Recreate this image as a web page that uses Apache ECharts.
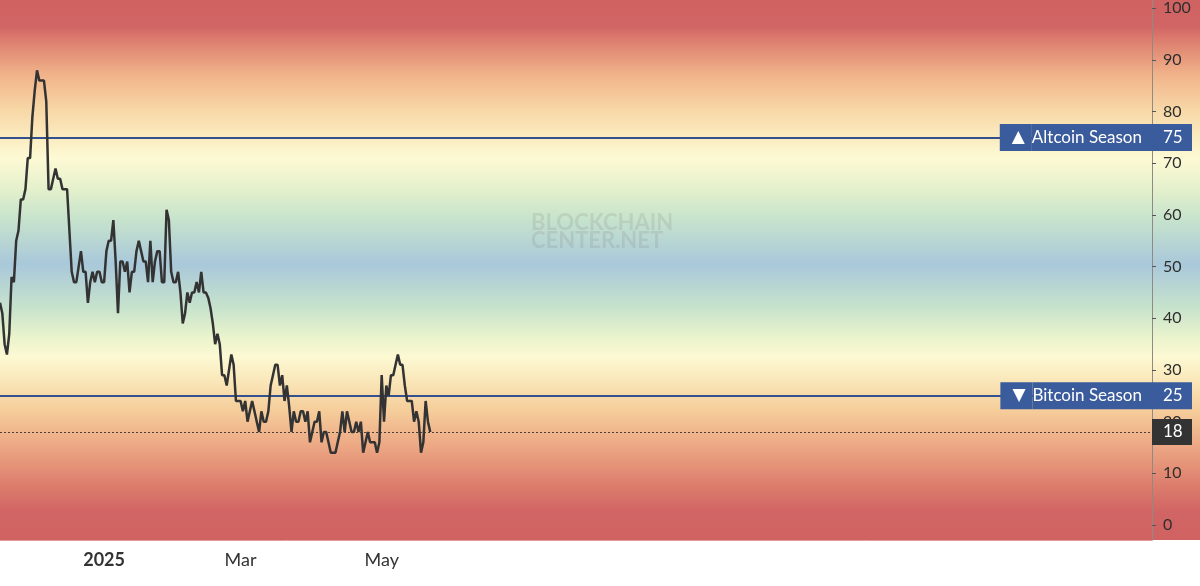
<!DOCTYPE html>
<html>
<head>
<meta charset="utf-8">
<script src="https://cdn.jsdelivr.net/npm/echarts@6/dist/echarts.min.js"></script>
<style>
html,body{margin:0;padding:0;background:#ffffff;}
#chart{width:1200px;height:586px;}
</style>
</head>
<body>
<div id="chart"></div>
<script>
// ---- data ----
const startDate = [2024, 10, 17];           // first daily point (Nov 17, 2024)
const axisEndDate = [2026, 2, 30];          // right end of the time axis
const seasonIndex = [
  43,41,35,33,37,48,47,55,57,63,
  63,65,71,71,79,84,88,86,86,86,
  82,65,65,67,69,67,67,65,65,65,
  57,49,47,47,50,53,49,49,43,47,
  49,47,49,49,47,47,53,55,55,59,
  51,41,51,51,49,51,45,49,49,53,
  55,53,51,51,47,55,47,51,53,53,
  47,47,61,59,49,47,47,49,45,39,
  41,45,43,45,45,47,45,49,45,45,
  44,42,39,35,37,35,29,29,27,30,
  33,31,24,24,24,22,24,20,22,24,
  22,20,18,22,20,20,22,27,29,31,
  31,27,29,24,27,23,18,22,20,20,
  22,22,20,22,16,18,20,20,22,16,
  18,18,16,14,14,14,16,18,22,18,
  22,20,18,18,20,18,20,14,16,18,
  16,16,16,14,16,29,20,27,25,29,
  29,31,33,31,31,27,24,24,24,20,
  22,20,14,16,24,20,18
];
const yTickValues = [0,10,20,30,40,50,60,70,80,90,100];
const xTickDates = [[2025,0,1],[2025,2,1],[2025,4,1]];
const xTickLabels = ['2025','Mar','May'];
const xTickBold = [true,false,false];
const altcoinLevel = 75;
const bitcoinLevel = 25;
const altcoinArrow = '▲', altcoinName = 'Altcoin Season';
const bitcoinArrow = '▼', bitcoinName = 'Bitcoin Season';
const yMin = -2.9, yMax = 101.6;
const watermarkText = 'BLOCKCHAIN\nCENTER.NET';

// background colour bands, by index value
const bgStops = [
  [101.6,'#d06262'],[96.5,'#d16464'],[94,'#dc7c6e'],[87,'#f1b48a'],
  [80,'#f8d9a8'],[71,'#fdfad4'],[65,'#e4f0cc'],[59.5,'#c8e4cc'],
  [50.5,'#a9c8da'],[42,'#c7e3cc'],[36.5,'#e9f3cc'],[32.5,'#fdf9d3'],
  [27,'#f9e3b4'],[22,'#f5cc9a'],[15,'#eca683'],[7.5,'#dc7c6c'],
  [2.5,'#d16464'],[-2.9,'#d06262']
];

// ---- build ----
const DAY = 86400000;
function dayOffset(d) {
  return Math.round((Date.UTC(d[0], d[1], d[2]) - Date.UTC(startDate[0], startDate[1], startDate[2])) / DAY);
}
const lastValue = seasonIndex[seasonIndex.length - 1];
const seriesData = seasonIndex.map((v, i) => [i, v]);
const xTickDays = xTickDates.map(dayOffset);
const xMin = 0;
const xMax = dayOffset(axisEndDate);

const gridBottom = 46, gridRight = 48;
const plotHeight = 586 - gridBottom;
const gradStops = bgStops.map(s => ({
  offset: Math.min(1, Math.max(0, (yMax - s[0]) / (yMax - yMin))),
  color: s[1]
}));

const FONT = 'Lato, "Noto Sans", sans-serif';
const BLUE = '#3a5b9c';

const chart = echarts.init(document.getElementById('chart'));
chart.setOption({
  animation: false,
  backgroundColor: '#ffffff',
  textStyle: { fontFamily: FONT },
  grid: { left: 0, right: gridRight, top: 0, bottom: gridBottom, containLabel: false, outerBoundsMode: 'none' },
  graphic: [
    {
      type: 'rect', silent: true, z: -10,
      shape: { x: 0, y: 0, width: 1200, height: plotHeight },
      style: { fill: new echarts.graphic.LinearGradient(0, 0, 0, 1, gradStops) }
    },
    {
      type: 'text', silent: true, z: -5,
      left: 531, top: 212,
      style: {
        text: watermarkText,
        font: 'bold 22px ' + FONT,
        fill: 'rgba(120,120,120,0.17)',
        lineHeight: 18
      }
    }
  ],
  xAxis: {
    type: 'value',
    min: xMin,
    max: xMax,
    axisLine: { show: true, onZero: false, lineStyle: { color: '#e39b9b', width: 1 } },
    axisTick: { show: false },
    splitLine: { show: false },
    axisLabel: {
      customValues: xTickDays,
      margin: 11,
      color: '#333',
      fontSize: 18,
      fontFamily: FONT,
      formatter: function (value) {
        const i = xTickDays.indexOf(value);
        if (i < 0) return '';
        return xTickBold[i] ? '{b|' + xTickLabels[i] + '}' : '{n|' + xTickLabels[i] + '}';
      },
      rich: {
        b: { fontWeight: 'bold', fontSize: 18, color: '#333', fontFamily: FONT },
        n: { fontSize: 18, color: '#333', fontFamily: FONT }
      }
    }
  },
  yAxis: [
    {
      type: 'value',
      position: 'right',
      min: yMin,
      max: yMax,
      axisLine: { show: true, onZero: false, lineStyle: { color: '#8f8a86', width: 1 } },
      axisTick: { show: true, length: 4, customValues: yTickValues, lineStyle: { color: '#555' } },
      splitLine: { show: false },
      axisLabel: {
        customValues: yTickValues,
        margin: 11,
        color: '#2e2e2e',
        fontSize: 16,
        fontFamily: FONT
      }
    },
    {
      type: 'value',
      position: 'right',
      min: yMin,
      max: yMax,
      z: 10,
      axisLine: { show: false, onZero: false },
      axisTick: { show: false },
      splitLine: { show: false },
      axisLabel: {
        customValues: [altcoinLevel, bitcoinLevel, lastValue],
        margin: 40,
        align: 'right',
        verticalAlign: 'middle',
        fontFamily: FONT,
        formatter: function (v) {
          if (v === altcoinLevel) return '{ar|' + altcoinArrow + '}{bt|' + altcoinName + '}{bn|' + v + '}';
          if (v === bitcoinLevel) return '{ar|' + bitcoinArrow + '}{bt|' + bitcoinName + '}{bn|' + v + '}';
          return '{dk|' + v + '}';
        },
        rich: {
          ar: { backgroundColor: BLUE, color: '#fff', fontSize: 17, fontFamily: '"DejaVu Sans", sans-serif', height: 27, lineHeight: 27, align: 'left', padding: [0, 7, 0, 12] },
          bt: { backgroundColor: BLUE, color: '#fff', fontSize: 17, fontFamily: FONT, height: 27, lineHeight: 27, align: 'left', padding: [0, 10, 0, 0] },
          bn: { backgroundColor: BLUE, color: '#fff', fontSize: 17, fontFamily: FONT, height: 27, lineHeight: 27, width: 29, align: 'left', padding: [0, 0, 0, 11] },
          dk: { backgroundColor: '#333333', color: '#fff', fontSize: 17, fontFamily: FONT, height: 26, lineHeight: 26, width: 29, align: 'left', padding: [0, 0, 0, 11] }
        }
      }
    }
  ],
  series: [
    {
      type: 'line',
      data: seriesData,
      showSymbol: false,
      symbol: 'none',
      z: 5,
      lineStyle: { color: '#333333', width: 2.5 },
      markLine: {
        silent: true,
        symbol: ['none', 'none'],
        label: { show: false },
        data: [
          { yAxis: altcoinLevel, lineStyle: { color: '#34518e', width: 2, type: 'solid' } },
          { yAxis: bitcoinLevel, lineStyle: { color: '#34518e', width: 2, type: 'solid' } },
          { yAxis: lastValue, lineStyle: { color: '#4a4038', width: 1, type: [2, 2] } }
        ]
      }
    }
  ]
});
</script>
</body>
</html>
